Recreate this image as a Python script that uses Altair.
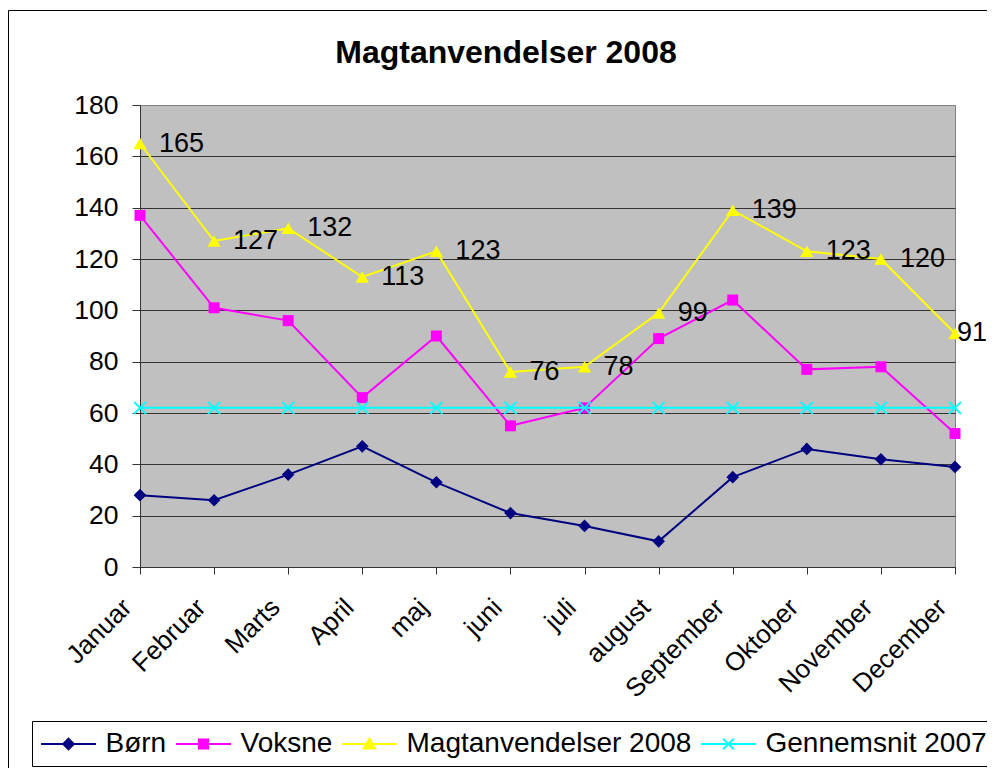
import altair as alt
import pandas as pd

# ---------------- data ----------------
months = ["Januar", "Februar", "Marts", "April", "maj", "juni", "juli",
          "august", "September", "Oktober", "November", "December"]
born = [28, 26, 36, 47, 33, 21, 16, 10, 35, 46, 42, 39]
voksne = [137, 101, 96, 66, 90, 55, 62, 89, 104, 77, 78, 52]
magt = [165, 127, 132, 113, 123, 76, 78, 99, 139, 123, 120, 91]
gennemsnit = [62, 62, 62, 62, 62, 62, 62, 62, 62, 62, 62, 62]

series_names = ["Børn", "Voksne", "Magtanvendelser 2008", "Gennemsnit 2007"]
series_values = [born, voksne, magt, gennemsnit]
series_colors = ["#000080", "#FF00FF", "#FFFF00", "#00FFFF"]
y_ticks = [0, 20, 40, 60, 80, 100, 120, 140, 160, 180]
title_text = "Magtanvendelser 2008"

rows = []
for name, vals in zip(series_names, series_values):
    for m, v in zip(months, vals):
        rows.append({"month": m, "series": name, "value": v})
df = pd.DataFrame(rows)
one = pd.DataFrame({"k": [0]})

FONT = "Liberation Sans, Arial, sans-serif"
DARK = "#333333"

# ---------------- encodings ----------------
x_enc = alt.X(
    "month:N", sort=months, title=None,
    scale=alt.Scale(type="point", padding=0),
    axis=alt.Axis(labelAngle=-45, labelAlign="right", labelBaseline="middle",
                  labelFont=FONT, labelFontSize=26, labelColor="black",
                  labelPadding=29, labelOffset=-13, labelOverlap=False,
                  tickSize=7, tickColor=DARK, domainColor=DARK, grid=False),
)
y_enc = alt.Y(
    "value:Q", title=None,
    scale=alt.Scale(domain=[0, 180], nice=False, zero=True),
    axis=alt.Axis(values=y_ticks, labelFont=FONT, labelFontSize=26.5,
                  labelColor="black", labelPadding=14, tickSize=8,
                  tickColor=DARK, domainColor=DARK, grid=True,
                  gridColor={"condition": {"test": "datum.value === 180", "value": "#808080"},
                             "value": DARK},
                  gridOpacity=1, gridWidth=1),
)

base = alt.Chart(df)

# outer chart frame
frame = alt.Chart(one).mark_rect(fillOpacity=0, stroke="black", strokeWidth=1).encode(
    x=alt.value(-131.5), x2=alt.value(1500), y=alt.value(-94.5), y2=alt.value(1500)
)

# title
title = alt.Chart(one).mark_text(
    text=title_text, font=FONT, fontSize=32, fontWeight="bold",
    align="center", baseline="alphabetic", color="black"
).encode(x=alt.value(366), y=alt.value(-42))

marker_shapes = ["diamond", "square", "triangle-up", "M-1,-1L1,1M-1,1L1,-1"]
marker_sizes = [160, 121, 175, 144]

layers = [frame, title]
for name, color, shp, sz in zip(series_names, series_colors, marker_shapes, marker_sizes):
    sub = base.transform_filter(alt.datum.series == name)
    line = sub.mark_line(color=color, strokeWidth=2).encode(x=x_enc, y=y_enc)
    if name == "Gennemsnit 2007":
        pts = sub.mark_point(shape=shp, filled=False, color=color, size=sz,
                             strokeWidth=2, opacity=1).encode(x=x_enc, y=y_enc)
    else:
        pts = sub.mark_point(shape=shp, filled=True, color=color, size=sz,
                             opacity=1).encode(x=x_enc, y=y_enc)
    layers += [line, pts]

# data labels for the total series
lab_main = base.transform_filter(
    (alt.datum.series == "Magtanvendelser 2008") & (alt.datum.month != "December")
).mark_text(align="left", baseline="middle", dx=19, font=FONT, fontSize=27,
            color="black").encode(x=x_enc, y=y_enc, text="value:Q")
lab_last = base.transform_filter(
    (alt.datum.series == "Magtanvendelser 2008") & (alt.datum.month == "December")
).mark_text(align="left", baseline="middle", dx=2, font=FONT, fontSize=27,
            color="black").encode(x=x_enc, y=y_enc, text="value:Q")
layers += [lab_main, lab_last]

# legend (line + marker glyphs)
legend_paths = [
    "M-1.964,0H1.964M0,-0.38L0.38,0L0,0.38L-0.38,0Z",
    "M-1.964,0H1.964M-0.33,-0.33H0.33V0.33H-0.33Z",
    "M-1.964,0H1.964M0,-0.38L0.41,0.33H-0.41Z",
    "M-1.964,0H1.964M-0.38,-0.38L0.38,0.38M-0.38,0.38L0.38,-0.38",
]
leg = alt.Legend(
    title=None, orient="none", legendX=-108, legendY=616,
    direction="horizontal", columns=4, columnPadding=5,
    symbolSize=784, symbolOffset=13.5, symbolStrokeWidth=2,
    symbolOpacity=1, symbolFillColor="black", symbolStrokeColor="black",
    labelOffset=22, labelFont=FONT, labelFontSize=28, labelColor="black",
    labelLimit=0, padding=8, strokeColor="black", fillColor="white",
)
legend_layer = base.mark_point(filled=True, opacity=0).encode(
    x=x_enc, y=y_enc,
    color=alt.Color("series:N", scale=alt.Scale(domain=series_names, range=series_colors), legend=leg),
    stroke=alt.Stroke("series:N", scale=alt.Scale(domain=series_names, range=series_colors), legend=leg),
    shape=alt.Shape("series:N", scale=alt.Scale(domain=series_names, range=legend_paths), legend=leg),
)
layers.append(legend_layer)

chart = alt.layer(*layers).properties(
    width=815, height=462,
    autosize=alt.AutoSizeParams(type="none"),
    padding={"left": 132, "top": 97, "right": 32, "bottom": 201},
    background="white",
).configure_view(fill="#C0C0C0", stroke="#808080", strokeWidth=1)

chart.save("out.html", embed_options={"renderer": "svg", "actions": False})
